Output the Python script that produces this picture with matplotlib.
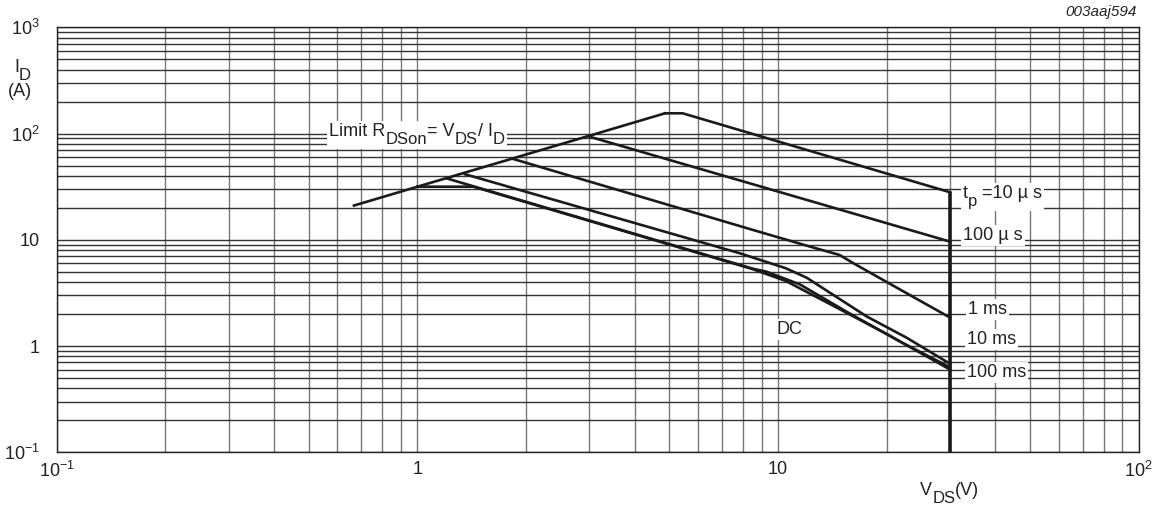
import numpy as np
import matplotlib
matplotlib.use("Agg")
import matplotlib.pyplot as plt
from matplotlib.patches import Rectangle
from matplotlib.transforms import Bbox

plt.rcParams['font.family'] = ['Liberation Sans', 'DejaVu Sans']
plt.rcParams['mathtext.fontset'] = 'custom'
plt.rcParams['mathtext.rm'] = 'Liberation Sans'
plt.rcParams['mathtext.it'] = 'Liberation Sans:italic'

# safe operating area, V_DS (V) vs I_D (A)
limit_v = [0.667, 4.86]
limit_i = [21.0, 155.0]
tp10us_v = [4.86, 5.44, 30.0]
tp10us_i = [155.0, 155.0, 28.0]
tp100us_v = [3.0, 30.0]
tp100us_i = [93.4, 9.6]
tp1ms_v = [1.845, 8.5, 12.3, 14.8, 16.2, 21.8, 30.0]
tp1ms_i = [57.6, 12.4, 8.6, 7.2, 6.0, 3.4, 1.85]
tp10ms_v = [1.355, 7.84, 10.5, 12.0, 17.6, 22.7, 30.0]
tp10ms_i = [41.4, 7.46, 5.4, 4.4, 1.9, 1.2, 0.68]
tp100ms_v = [1.203, 8.5, 9.3, 11.5, 15.5, 21.8, 30.0]
tp100ms_i = [37.9, 5.35, 5.0, 3.8, 2.1, 1.1, 0.63]
dc_v = [1.0, 1.43, 8.5, 10.5, 14.2, 20.0, 30.0]
dc_i = [31.6, 31.6, 5.3, 4.1, 2.4, 1.3, 0.60]
vds_max = 30.0

xticks = [0.1, 1, 10, 100]
xticklabels = [r'$\mathregular{10^{-1}}$', '1', '10', r'$\mathregular{10^{2}}$']
yticks = [0.1, 1, 10, 100, 1000]
yticklabels = [r'$\mathregular{10^{-1}}$', '1', '10', r'$\mathregular{10^{2}}$', r'$\mathregular{10^{3}}$']

fs = 13
tc = '#222222'


def sub_text(ax, x, y, parts, coords='data'):
    # chain text pieces, subscripts a bit smaller and lower
    prev = ax.annotate(parts[0][0], (x, y), xycoords=coords, fontsize=fs, va='center',
                       ha='left', zorder=4, color=tc, annotation_clip=False)
    pieces = [prev]
    level = 0
    for s, sub in parts[1:]:
        new_level = -5.5 if sub else 0
        prev = ax.annotate(s, xy=(1, 0), xycoords=prev, xytext=(0, new_level - level),
                           textcoords='offset points', fontsize=fs * 0.92 if sub else fs,
                           va='bottom', ha='left', zorder=4, color=tc,
                           annotation_clip=False)
        pieces.append(prev)
        level = new_level
    return pieces


fig = plt.figure(figsize=(11.59, 5.05), dpi=100)
ax = fig.add_axes([0.0489, 0.1044, 0.9336, 0.8416])
ax.set_xscale('log')
ax.set_yscale('log')
ax.set_xlim(0.1, 100)
ax.set_ylim(0.1, 1000)

ax.set_xticks(xticks)
ax.set_xticklabels(xticklabels)
ax.set_yticks(yticks)
ax.set_yticklabels(yticklabels)
ax.tick_params(which='both', length=0, labelsize=fs, colors=tc)
ax.tick_params(axis='x', pad=6)
ax.tick_params(axis='y', pad=12)

ax.grid(True, which='both', axis='x', color='#777777', lw=1.0)
ax.grid(True, which='both', axis='y', color='#333333', lw=1.0)
ax.set_axisbelow(True)
for s in ax.spines.values():
    s.set_color(tc)
    s.set_linewidth(1.0)

lc = '#1a1a1a'
lw = 1.9
for v, i in [(limit_v, limit_i), (tp10us_v, tp10us_i), (tp100us_v, tp100us_i),
             (tp1ms_v, tp1ms_i), (tp10ms_v, tp10ms_i), (tp100ms_v, tp100ms_i),
             (dc_v, dc_i)]:
    ax.plot(v, i, color=lc, lw=lw, solid_joinstyle='miter', zorder=3)
ax.vlines(vds_max, 0.1, tp10us_i[-1], color=lc, lw=2.6, zorder=3)

labels = []
labels.append(sub_text(ax, 0.57, 105, [('Limit R', False), ('DSon', True), ('= V', False),
                                        ('DS', True), ('/ I', False), ('D', True)]))
labels.append(sub_text(ax, 32.5, 27.5, [('t', False), ('p', True), (' =10 µ s', False)]))
for x, y, s in [(32.6, 10.9, '100 µ s'), (33.7, 2.22, '1 ms'), (33.4, 1.16, '10 ms'),
                (33.4, 0.56, '100 ms'), (9.9, 1.42, 'DC')]:
    labels.append([ax.text(x, y, s, fontsize=fs, va='center', ha='left', zorder=4, color=tc)])

fig.text(0.981, 0.976, '003aaj594', fontsize=11, style='italic', ha='right', va='center', color=tc)
sub_text(ax, 0.012, 0.867, [('I', False), ('D', True)], coords='figure fraction')
fig.text(0.0175, 0.818, '(A)', fontsize=fs, ha='center', va='center', color=tc)
sub_text(ax, 0.794, 0.029, [('V', False), ('DS', True), ('(V)', False)], coords='figure fraction')

# white boxes behind the curve labels, covering the grid
fig.canvas.draw()
r = fig.canvas.get_renderer()
inv = ax.transAxes.inverted()
for group in labels:
    bb = Bbox.union([t.get_window_extent(r) for t in group]).padded(2)
    (x0, y0), (x1, y1) = inv.transform([[bb.x0, bb.y0], [bb.x1, bb.y1]])
    ax.add_patch(Rectangle((x0, y0), x1 - x0, y1 - y0, transform=ax.transAxes,
                           facecolor='white', edgecolor='none', zorder=2.5))

fig.savefig('out.png', dpi=100)
